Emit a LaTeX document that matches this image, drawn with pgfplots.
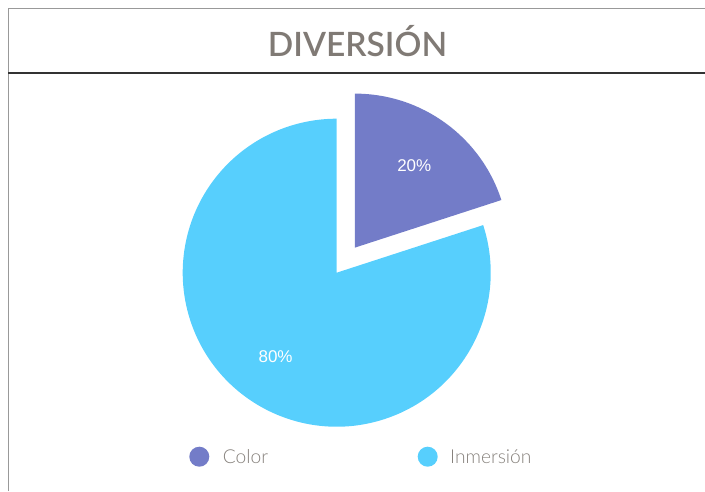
\documentclass[border=0pt]{standalone}
\usepackage{pgfplots}
\usepackage{pgfplotstable}
\pgfplotsset{compat=1.18}
\usetikzlibrary{calc}
\usepackage{fontspec}
\setmainfont{Liberation Sans}
\newfontfamily\titlefont{Lato Semibold}
\newfontfamily\legfont{Lato Light}
\definecolor{colA}{RGB}{115,124,200}
\definecolor{colB}{RGB}{87,207,253}
\definecolor{titlegray}{RGB}{128,122,117}
\definecolor{leggray}{RGB}{135,130,125}
\pgfplotstableread{
label value
Color 20
Inmersion 80
}\piedata
\begin{document}%
\begin{tikzpicture}
\pgfplotstablegetelem{0}{value}\of\piedata \let\va\pgfplotsretval
\pgfplotstablegetelem{1}{value}\of\piedata \let\vb\pgfplotsretval
\pgfmathsetmacro\aend{90}
\pgfmathsetmacro\astart{90-3.6*\va}
\pgfmathsetmacro\bend{\astart-3.6*\vb}
\pgfmathsetmacro\amid{(\aend+\astart)/2}
\pgfmathsetmacro\bmid{(\astart+\bend)/2}
\begin{axis}[width=705pt,height=491pt,scale only axis,
  xmin=0,xmax=705,ymin=0,ymax=491,hide axis,clip=false]
\coordinate (BL) at (axis cs:0,0);
\coordinate (TR) at (axis cs:705,491);
% frame lines
\draw[line width=1pt,black!40] (axis cs:8,0) -- (axis cs:8,482) -- (axis cs:705,482);
\draw[line width=1.3pt,black!80] (axis cs:8,418) -- (axis cs:705,418);
% title
\node[anchor=base,text=titlegray] at (axis cs:357.5,434)
  {\titlefont\fontsize{33.5}{33.5}\selectfont DIVERSIÓN};
% pie
\coordinate (C) at (axis cs:336.7,218.3);
\fill[colB] (C) -- ++(\astart:154pt) arc[start angle=\astart, end angle=\bend, radius=154pt] -- cycle;
\fill[colA] ($(C)+(\amid:31pt)$) -- ++(\astart:154pt) arc[start angle=\astart, end angle=\aend, radius=154pt] -- cycle;
\node[text=white,font=\fontsize{17}{17}\selectfont] at ($(C)+(\amid:31pt)+(\amid:101pt)$) {\va\%};
\node[text=white,font=\fontsize{17}{17}\selectfont] at ($(C)+(\bmid:104pt)$) {\vb\%};
% legend
\fill[colA] (axis cs:199.3,34.3) circle[radius=10pt];
\fill[colB] (axis cs:427.7,34.3) circle[radius=10pt];
\node[anchor=base west,inner sep=0pt,text=leggray] at (axis cs:222.7,27.7)
  {\legfont\fontsize{19.2}{19.2}\selectfont Color};
\node[anchor=base west,inner sep=0pt,text=leggray] at (axis cs:450,27.7)
  {\legfont\fontsize{19.2}{19.2}\selectfont Inmersión};
\end{axis}
\pgfresetboundingbox
\path[use as bounding box] (BL) rectangle (TR);
\end{tikzpicture}%
\end{document}
